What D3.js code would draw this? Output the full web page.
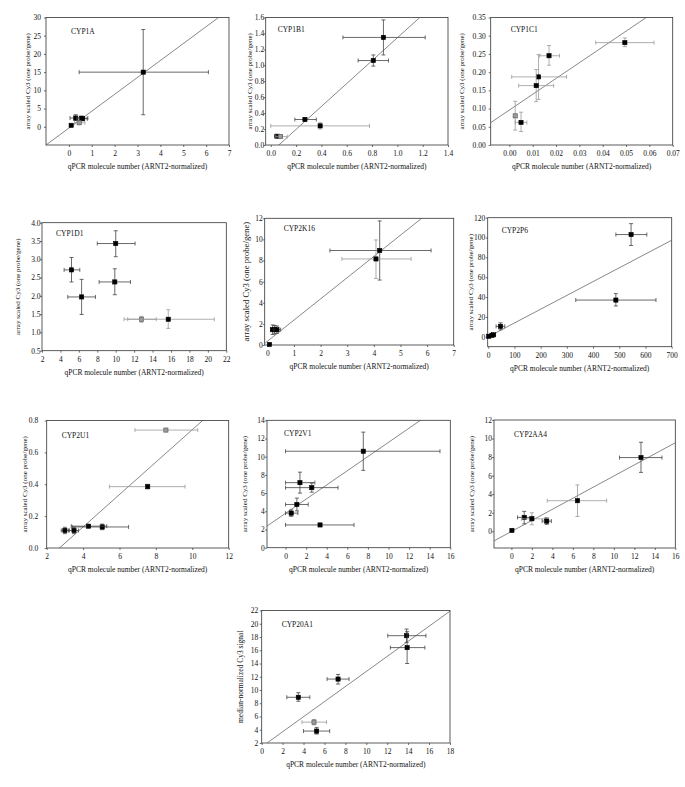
<!DOCTYPE html>
<html>
<head>
<meta charset="utf-8">
<script src="https://cdn.jsdelivr.net/npm/d3@7"></script>
<style>
  body { margin: 0; background: #fff; }
  svg { display: block; }
  text { font-family: "Liberation Serif", "Times New Roman", serif; fill: #111; }
</style>
</head>
<body>
<svg id="fig" width="685" height="787"></svg>
<script>
// Each row: x, y, xLow, xHigh, yLow, yHigh, style (0 black, 1 grey marker, 2 grey bars)
var cyp1a = [
  [3.25, 15.0, 0.45, 6.1, 3.3, 26.7, 0],
  [0.3, 2.4, 0.05, 0.55, 1.7, 3.3, 0],
  [0.55, 2.35, 0.35, 0.83, 1.9, 2.9, 0],
  [0.6, 2.2, 0.45, 0.8, 1.8, 2.6, 0],
  [0.45, 1.1, 0.25, 0.7, 0.7, 1.5, 1],
  [0.1, 0.4, 0.1, 0.1, 0.4, 0.4, 0]
];
var cyp1b1 = [
  [0.89, 1.35, 0.57, 1.22, 1.13, 1.57, 0],
  [0.81, 1.06, 0.69, 0.93, 0.99, 1.13, 0],
  [0.27, 0.32, 0.19, 0.36, 0.30, 0.34, 0],
  [0.39, 0.24, 0.0, 0.78, 0.20, 0.28, 2],
  [0.05, 0.11, 0.03, 0.09, 0.10, 0.12, 0],
  [0.075, 0.105, 0.04, 0.13, 0.10, 0.11, 1]
];
var cyp1c1 = [
  [0.0495, 0.281, 0.037, 0.062, 0.270, 0.294, 2],
  [0.017, 0.245, 0.013, 0.0215, 0.219, 0.273, 2],
  [0.0125, 0.187, 0.001, 0.0245, 0.125, 0.248, 2],
  [0.0115, 0.163, 0.004, 0.019, 0.119, 0.207, 2],
  [0.0025, 0.080, 0.0025, 0.0025, 0.041, 0.120, 1],
  [0.005, 0.062, 0.0025, 0.0075, 0.037, 0.090, 2]
];
var cyp1d1 = [
  [10.0, 3.43, 8.0, 12.1, 3.07, 3.78, 0],
  [5.2, 2.71, 4.4, 6.1, 2.38, 3.05, 0],
  [9.9, 2.38, 8.2, 11.6, 2.03, 2.74, 0],
  [6.3, 1.97, 4.8, 7.8, 1.49, 2.45, 0],
  [12.8, 1.36, 11.3, 14.4, 1.28, 1.44, 1],
  [15.7, 1.36, 10.9, 20.7, 1.11, 1.62, 2]
];
var cyp2k16 = [
  [4.22, 8.95, 2.35, 6.15, 6.15, 11.75, 0],
  [4.08, 8.15, 2.8, 5.4, 6.3, 9.95, 2],
  [0.2, 1.45, 0.12, 0.3, 1.0, 1.9, 0],
  [0.27, 1.45, 0.2, 0.4, 1.05, 1.85, 0],
  [0.36, 1.45, 0.25, 0.5, 1.1, 1.8, 0],
  [0.08, 0.05, 0.08, 0.08, 0.05, 0.05, 0]
];
var cyp2p6 = [
  [545, 103, 487, 605, 92, 114, 0],
  [487, 37, 334, 640, 31, 43.5, 0],
  [47, 10.5, 30, 63, 7, 14, 0],
  [20, 2, 12, 28, 1, 3, 0],
  [14, 1.5, 8, 20, 1, 2, 0],
  [2, 0.5, 2, 2, 0.5, 0.5, 0]
];
var cyp2u1 = [
  [8.55, 0.74, 6.85, 10.3, 0.735, 0.745, 1],
  [7.55, 0.385, 5.45, 9.6, 0.37, 0.40, 2],
  [5.05, 0.132, 3.4, 6.5, 0.115, 0.15, 0],
  [4.3, 0.137, 3.35, 5.3, 0.137, 0.137, 0],
  [3.5, 0.11, 3.2, 3.75, 0.09, 0.13, 0],
  [3.0, 0.11, 2.8, 3.25, 0.09, 0.13, 0]
];
var cyp2v1 = [
  [7.55, 10.6, 0, 15, 8.5, 12.7, 0],
  [1.4, 7.15, 0, 2.85, 6.0, 8.3, 0],
  [2.55, 6.6, 0, 5.1, 6.1, 7.1, 0],
  [1.1, 4.75, 0, 2.2, 4.05, 5.45, 0],
  [0.55, 3.8, 0, 1.2, 3.45, 4.15, 0],
  [3.35, 2.5, 0, 6.65, 2.4, 2.6, 0]
];
var cyp2aa4 = [
  [12.65, 7.95, 10.55, 14.7, 6.35, 9.6, 0],
  [6.45, 3.3, 3.5, 9.3, 1.6, 5.0, 2],
  [1.25, 1.5, 0.6, 2.0, 0.8, 2.15, 0],
  [2.0, 1.35, 1.0, 3.3, 0.7, 2.0, 2],
  [3.45, 1.1, 3.0, 3.9, 0.75, 1.45, 0],
  [0.05, 0.1, 0.05, 0.05, 0.1, 0.1, 0]
];
var cyp20a1 = [
  [13.85, 18.2, 12.05, 15.7, 17.2, 19.2, 0],
  [13.9, 16.4, 12.3, 15.6, 14.0, 18.8, 0],
  [7.3, 11.65, 6.25, 8.35, 10.9, 12.35, 0],
  [3.5, 8.9, 2.4, 4.6, 8.3, 9.6, 0],
  [5.0, 5.15, 3.85, 6.2, 4.75, 5.55, 1],
  [5.25, 3.8, 4.0, 6.5, 3.35, 4.35, 0]
];

var genes = ['CYP1A', 'CYP1B1', 'CYP1C1', 'CYP1D1', 'CYP2K16', 'CYP2P6',
             'CYP2U1', 'CYP2V1', 'CYP2AA4', 'CYP20A1'];
var series = [cyp1a, cyp1b1, cyp1c1, cyp1d1, cyp2k16, cyp2p6,
              cyp2u1, cyp2v1, cyp2aa4, cyp20a1];

// regression lines (null = no line)
var fitSlope = [4.64, 1.437, 4.33, null, 2.01, 0.139, 0.1017, 0.78, 0.598, 1.138];
var fitIntercept = [-0.36, -0.091, 0.096, null, 0.35, 0, -0.2746, 3.78, -0.02, 1.42];

var xTickVals = [
  [0, 1, 2, 3, 4, 5, 6, 7],
  [0, 0.2, 0.4, 0.6, 0.8, 1.0, 1.2, 1.4],
  [0, 0.01, 0.02, 0.03, 0.04, 0.05, 0.06, 0.07],
  [2, 4, 6, 8, 10, 12, 14, 16, 18, 20, 22],
  [0, 1, 2, 3, 4, 5, 6, 7],
  [0, 100, 200, 300, 400, 500, 600, 700],
  [2, 4, 6, 8, 10, 12],
  [0, 2, 4, 6, 8, 10, 12, 14, 16],
  [0, 2, 4, 6, 8, 10, 12, 14, 16],
  [0, 2, 4, 6, 8, 10, 12, 14, 16, 18]
];
var yTickVals = [
  [0, 5, 10, 15, 20, 25, 30],
  [0, 0.2, 0.4, 0.6, 0.8, 1.0, 1.2, 1.4, 1.6],
  [0, 0.05, 0.10, 0.15, 0.20, 0.25, 0.30, 0.35],
  [0.5, 1.0, 1.5, 2.0, 2.5, 3.0, 3.5, 4.0],
  [0, 2, 4, 6, 8, 10, 12],
  [0, 20, 40, 60, 80, 100, 120],
  [0, 0.2, 0.4, 0.6, 0.8],
  [0, 2, 4, 6, 8, 10, 12, 14],
  [0, 2, 4, 6, 8, 10, 12],
  [2, 4, 6, 8, 10, 12, 14, 16, 18, 20, 22]
];
var yTitles = ['array scaled Cy3 (one probe/gene)', 'array scaled Cy3 (one probe/gene)',
  'array scaled Cy3 (one probe/gene)', 'array scaled Cy3 (one probe/gene)',
  'array scaled Cy3 (one probe/gene)', 'array scaled Cy3 (one probe/gene)',
  'array scaled Cy3 (one probe/gene)', 'array scaled Cy3 (one probe/gene)',
  'array scaled Cy3 (one probe/gene)', 'median-normalized Cy3 signal'];
var xTitle = 'qPCR molecule number (ARNT2-normalized)';

// panel geometry (pixels) and axis ranges; yg = gap between y axis and tick labels
var layout = [
  {l: 46, r: 229, t: 17.5, b: 145, xd: [-1, 7], yd: [-5, 30], xf: 'd', yf: 'd', yl: 28, yg: 5, tx: 25, ty: 16, ls: 7},
  {l: 265.7, r: 448, t: 17.5, b: 145, xd: [-0.04, 1.4], yd: [0, 1.6], xf: '.1f', yf: '.1f', yl: 249.5, yg: 1.5, tx: 12, ty: 14, ls: 7},
  {l: 490.7, r: 672.7, t: 17.5, b: 145, xd: [-0.008, 0.07], yd: [0, 0.35], xf: '.2f', yf: '.2f', yl: 462, yg: 5, tx: 20, ty: 14, ls: 7},
  {l: 42, r: 226.3, t: 222.7, b: 350.7, xd: [2, 22], yd: [0.5, 4.0], xf: 'd', yf: '.1f', yl: 18, yg: 1.5, tx: 14, ty: 13, ls: 7},
  {l: 264.7, r: 453.7, t: 218.3, b: 345, xd: [-0.1, 7], yd: [0, 12], xf: 'd', yf: 'd', yl: 246, yg: 2, tx: 19, ty: 13, ls: 8.7},
  {l: 487.7, r: 671.7, t: 217.7, b: 346.7, xd: [-2, 700], yd: [-10, 120], xf: 'd', yf: 'd', yl: 471, yg: 2.5, tx: 14, ty: 15, ls: 7},
  {l: 46.7, r: 228.7, t: 420.5, b: 548, xd: [2, 12], yd: [0, 0.8], xf: 'd', yf: '.1f', yl: 24.5, yg: 8.5, tx: 15, ty: 17, ls: 7},
  {l: 267, r: 450.3, t: 420.3, b: 547.7, xd: [-1.8, 16], yd: [0, 14], xf: 'd', yf: 'd', yl: 244.7, yg: 2.3, tx: 17, ty: 16, ls: 7},
  {l: 494, r: 675.3, t: 420, b: 548, xd: [-1.7, 16], yd: [-1.8, 12], xf: 'd', yf: 'd', yl: 471.7, yg: 2, tx: 20, ty: 17, ls: 7},
  {l: 261.7, r: 450, t: 610.5, b: 743, xd: [0, 18], yd: [2, 22], xf: 'd', yf: 'd', yl: 240.7, yg: 3.4, tx: 20, ty: 16, ls: 7.5}
];

var svg = d3.select('#fig');
var fontSize = 7.5;
var cap = 2;
var tick = 2;

layout.forEach(function (p, i) {
  var data = series[i];
  var x = d3.scaleLinear().domain(p.xd).range([p.l, p.r]);
  var y = d3.scaleLinear().domain(p.yd).range([p.b, p.t]);
  var g = svg.append('g').attr('class', 'panel');

  // clip for regression line
  var clipId = 'clip' + i;
  g.append('clipPath').attr('id', clipId)
   .append('rect')
   .attr('x', p.l).attr('y', p.t)
   .attr('width', p.r - p.l).attr('height', p.b - p.t);

  // axes
  var xAxis = d3.axisBottom(x)
                .tickValues(xTickVals[i])
                .tickFormat(d3.format(p.xf))
                .tickSize(tick).tickSizeOuter(0).tickPadding(4);
  var yAxis = d3.axisLeft(y)
                .tickValues(yTickVals[i])
                .tickFormat(d3.format(p.yf))
                .tickSize(tick).tickSizeOuter(0).tickPadding(p.yg - tick);
  var gx = g.append('g').attr('transform', 'translate(0,' + p.b + ')').call(xAxis);
  var gy = g.append('g').attr('transform', 'translate(' + p.l + ',0)').call(yAxis);
  [gx, gy].forEach(function (a) {
    a.select('.domain').remove();
    a.selectAll('line').attr('stroke', '#333').attr('stroke-width', 0.7);
    a.selectAll('text').style('font-size', fontSize + 'px')
     .style('font-family', '"Liberation Serif", serif').attr('fill', '#111');
  });

  // frame
  g.append('rect')
   .attr('x', p.l).attr('y', p.t)
   .attr('width', p.r - p.l).attr('height', p.b - p.t)
   .attr('fill', 'none').attr('stroke', '#333').attr('stroke-width', 0.8);

  // regression line
  if (fitSlope[i] !== null) {
    var x0 = p.xd[0], x1 = p.xd[1];
    g.append('line')
     .attr('clip-path', 'url(#' + clipId + ')')
     .attr('x1', x(x0)).attr('y1', y(fitSlope[i] * x0 + fitIntercept[i]))
     .attr('x2', x(x1)).attr('y2', y(fitSlope[i] * x1 + fitIntercept[i]))
     .attr('stroke', '#555').attr('stroke-width', 0.7);
  }

  // error bars
  var pts = g.selectAll('.pt').data(data).enter().append('g').attr('class', 'pt');
  var barColor = function (d) { return d[6] === 0 ? '#444' : '#999'; };
  pts.filter(function (d) { return d[3] > d[2]; }).each(function (d) {
    var s = d3.select(this);
    var c = barColor(d);
    s.append('line').attr('x1', x(d[2])).attr('x2', x(d[3]))
     .attr('y1', y(d[1])).attr('y2', y(d[1])).attr('stroke', c).attr('stroke-width', 0.8);
    [d[2], d[3]].forEach(function (v) {
      s.append('line').attr('x1', x(v)).attr('x2', x(v))
       .attr('y1', y(d[1]) - cap).attr('y2', y(d[1]) + cap)
       .attr('stroke', c).attr('stroke-width', 0.8);
    });
  });
  pts.filter(function (d) { return d[5] > d[4]; }).each(function (d) {
    var s = d3.select(this);
    var c = barColor(d);
    s.append('line').attr('x1', x(d[0])).attr('x2', x(d[0]))
     .attr('y1', y(d[4])).attr('y2', y(d[5])).attr('stroke', c).attr('stroke-width', 0.8);
    [d[4], d[5]].forEach(function (v) {
      s.append('line').attr('x1', x(d[0]) - cap).attr('x2', x(d[0]) + cap)
       .attr('y1', y(v)).attr('y2', y(v))
       .attr('stroke', c).attr('stroke-width', 0.8);
    });
  });

  // markers
  var m = 4.2;
  pts.append('rect')
     .attr('x', function (d) { return x(d[0]) - m / 2; })
     .attr('y', function (d) { return y(d[1]) - m / 2; })
     .attr('width', m).attr('height', m)
     .attr('fill', function (d) { return d[6] === 1 ? '#999' : '#000'; })
     .attr('stroke', function (d) { return d[6] === 1 ? '#555' : '#000'; })
     .attr('stroke-width', 0.6);

  // titles
  g.append('text')
   .attr('x', p.l + p.tx).attr('y', p.t + p.ty)
   .style('font-size', fontSize + 'px')
   .text(genes[i]);
  g.append('text')
   .attr('x', (p.l + p.r) / 2).attr('y', p.b + 24)
   .attr('text-anchor', 'middle')
   .style('font-size', fontSize + 'px')
   .text(xTitle);
  g.append('text')
   .attr('transform', 'translate(' + p.yl + ',' + ((p.t + p.b) / 2) + ') rotate(-90)')
   .attr('text-anchor', 'middle')
   .attr('dy', '0.35em')
   .style('font-size', p.ls + 'px')
   .text(yTitles[i]);
});
</script>
</body>
</html>
